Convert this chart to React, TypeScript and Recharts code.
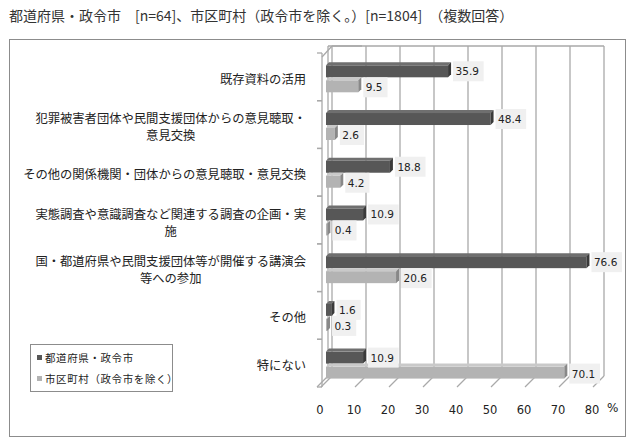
import { BarChart, Bar, XAxis, YAxis, CartesianGrid, Legend, LabelList } from 'recharts'

const categories = [
  '既存資料の活用',
  '犯罪被害者団体や民間支援団体からの意見聴取・\n意見交換',
  'その他の関係機関・団体からの意見聴取・意見交換',
  '実態調査や意識調査など関連する調査の企画・実\n施',
  '国・都道府県や民間支援団体等が開催する講演会\n等への参加',
  'その他',
  '特にない',
]
const prefValues = [35.9, 48.4, 18.8, 10.9, 76.6, 1.6, 10.9]
const muniValues = [9.5, 2.6, 4.2, 0.4, 20.6, 0.3, 70.1]
const xTicks = [0, 10, 20, 30, 40, 50, 60, 70, 80]

const PREF_NAME = '都道府県・政令市'
const MUNI_NAME = '市区町村（政令市を除く）'

const data = categories.map((name, i) => ({
  name,
  pref: prefValues[i],
  muni: muniValues[i],
}))

// layout
const W = 640
const H = 448
const PLOT_LEFT = 322
const PLOT_TOP = 53
const PLOT_RIGHT = 598
const PLOT_BOTTOM = 387
const Y_AXIS_W = 300
const X_AXIS_H = 30
const BAND = (PLOT_BOTTOM - PLOT_TOP) / categories.length
const STEP = (PLOT_RIGHT - PLOT_LEFT - 4) / (xTicks.length - 1)

// 3d wall
const BACK_DX = 6
const FRONT_DX = 5
const BACK_TOP = 46
const BACK_BOTTOM = 376
const GRID = '#a9a9a9'
const FONT = '"Noto Sans CJK JP", "Noto Sans", sans-serif'
const NUM_FONT = '"DejaVu Sans", sans-serif'

const renderGridLine = (props: any) => {
  const { x1, index } = props
  const bx = x1 + BACK_DX
  return (
    <g key={`grid-${index}`}>
      <line x1={bx} y1={BACK_TOP} x2={bx} y2={BACK_BOTTOM} stroke={GRID} strokeWidth={1.3} />
      <line x1={bx} y1={BACK_BOTTOM} x2={x1 - FRONT_DX} y2={PLOT_BOTTOM} stroke={GRID} strokeWidth={1.3} />
      {x1 < PLOT_RIGHT - 1 && (
        <line x1={bx} y1={BACK_TOP} x2={bx + STEP} y2={BACK_TOP} stroke={GRID} strokeWidth={1.3} />
      )}
      {index === 0 && (
        <line x1={PLOT_LEFT} y1={PLOT_TOP + 4} x2={bx} y2={BACK_TOP} stroke={GRID} strokeWidth={1.3} />
      )}
    </g>
  )
}

const CategoryTick = (props: any) => {
  const { y, payload } = props
  const lines: string[] = String(payload.value).split('\n')
  const fs = 12.3
  const lh = 17
  const maxLen = Math.max(...lines.map(l => l.length))
  const right = PLOT_LEFT - 16
  const cx = right - (maxLen * fs) / 2
  const startY = y + 2 - ((lines.length - 1) * lh) / 2
  return (
    <g>
      <line x1={PLOT_LEFT - 5} y1={y - BAND / 2} x2={PLOT_LEFT} y2={y - BAND / 2} stroke={GRID} strokeWidth={1.3} />
      <line x1={PLOT_LEFT - 5} y1={y + BAND / 2} x2={PLOT_LEFT} y2={y + BAND / 2} stroke={GRID} strokeWidth={1.3} />
      <text textAnchor="middle" fontSize={fs} fontFamily={FONT} fill="#222">
        {lines.map((l, i) => (
          <tspan key={i} x={cx} y={startY + i * lh} dominantBaseline="central">
            {l}
          </tspan>
        ))}
      </text>
    </g>
  )
}

const NumberTick = (props: any) => {
  const { x, payload } = props
  return (
    <text x={x - 6} y={PLOT_BOTTOM + 27} textAnchor="middle" fontSize={11.5} fontFamily={NUM_FONT} fill="#222">
      {payload.value}
    </text>
  )
}

const makeBarShape = (face: string, top: string, side: string) => (props: any) => {
  const { x, y, width, height } = props
  const d = 3
  const w = Math.max(width, 0)
  return (
    <g>
      <rect x={x} y={y + d} width={w} height={height - d} fill={face} />
      <polygon points={`${x},${y + d} ${x + d},${y} ${x + w + d},${y} ${x + w},${y + d}`} fill={top} />
      <polygon
        points={`${x + w},${y + d} ${x + w + d},${y} ${x + w + d},${y + height - d} ${x + w},${y + height}`}
        fill={side}
      />
    </g>
  )
}

const makeLabel = (shift: number) => (props: any) => {
  const vb = props.viewBox && props.viewBox.width !== undefined ? props.viewBox : props
  const { x, y, width, height } = vb
  const text = Number(props.value).toFixed(1)
  const bw = text.length * 6.4 + 5
  const bx = x + width + 5
  const cy = y + height / 2 + shift
  return (
    <g>
      <rect x={bx} y={cy - 10} width={bw} height={20} fill="#f0f0f0" />
      <text x={bx + 2.5} y={cy} dominantBaseline="central" fontSize={10.5} fontFamily={NUM_FONT} fill="#222">
        {text}
      </text>
    </g>
  )
}

const seriesOrder = ['pref', 'muni']

const LegendBox = (props: any) => {
  const items = [...(props.payload || [])].sort(
    (a: any, b: any) => seriesOrder.indexOf(a.dataKey) - seriesOrder.indexOf(b.dataKey)
  )
  return (
    <div
      style={{
        width: 141,
        height: 46,
        border: '1px solid #8c8c8c',
        background: '#fff',
        fontFamily: FONT,
        fontSize: 10.5,
        color: '#222',
        boxSizing: 'content-box',
        position: 'relative',
      }}
    >
      {items.map((it: any, i: number) => (
        <div key={i} style={{ position: 'absolute', left: 6, top: 5 + i * 21, display: 'flex', alignItems: 'center', whiteSpace: 'nowrap' }}>
          <span style={{ display: 'inline-block', width: 5, height: 5, background: it.color, marginRight: 3 }} />
          <span style={{ letterSpacing: 0.6 }}>{it.value}</span>
        </div>
      ))}
    </div>
  )
}

export default function App() {
  return (
    <div style={{ position: 'absolute', left: 0, top: 0, width: W, height: H, background: '#fff', fontFamily: FONT }}>
      <div style={{ position: 'absolute', left: 9, top: 5, fontSize: 14, color: '#333', whiteSpace: 'nowrap', lineHeight: '20px' }}>
        都道府県・政令市　[n=64]、市区町村（政令市を除く。）[n=1804]　（複数回答）
      </div>
      <div style={{ position: 'absolute', left: 9, top: 39, width: 615, height: 396, border: '1px solid #8c8c8c' }} />
      <div style={{ position: 'absolute', left: 0, top: 0 }}>
        <BarChart
          width={W}
          height={H}
          data={data}
          layout="vertical"
          margin={{ top: PLOT_TOP, left: PLOT_LEFT - Y_AXIS_W, right: W - PLOT_RIGHT, bottom: H - PLOT_BOTTOM - X_AXIS_H }}
          barCategoryGap="19.5%"
          barGap={0}
        >
          <CartesianGrid horizontal={false} vertical={renderGridLine} />
          <XAxis
            type="number"
            domain={[0, 80]}
            ticks={xTicks}
            padding={{ left: 4, right: 0 }}
            axisLine={false}
            tickLine={false}
            tick={<NumberTick />}
            height={X_AXIS_H}
            interval={0}
          />
          <YAxis
            type="category"
            dataKey="name"
            width={Y_AXIS_W}
            axisLine={{ stroke: GRID, strokeWidth: 1.3 }}
            tickLine={false}
            tick={<CategoryTick />}
            interval={0}
          />
          <Legend
            layout="vertical"
            align="center"
            verticalAlign="middle"
            content={<LegendBox />}
            wrapperStyle={{ left: 30, top: 344, width: 143, height: 48 }}
          />
          <Bar dataKey="pref" name={PREF_NAME} fill="#575757" isAnimationActive={false} shape={makeBarShape('#575757', '#6f6f6f', '#3a3a3a')}>
            <LabelList dataKey="pref" content={makeLabel(1.5)} />
          </Bar>
          <Bar dataKey="muni" name={MUNI_NAME} fill="#b3b3b3" isAnimationActive={false} shape={makeBarShape('#b3b3b3', '#c9c9c9', '#888888')}>
            <LabelList dataKey="muni" content={makeLabel(2.5)} />
          </Bar>
        </BarChart>
      </div>
      <div style={{ position: 'absolute', left: 607, top: PLOT_BOTTOM + 14, fontSize: 12, fontFamily: NUM_FONT, color: '#222' }}>%</div>
    </div>
  )
}
